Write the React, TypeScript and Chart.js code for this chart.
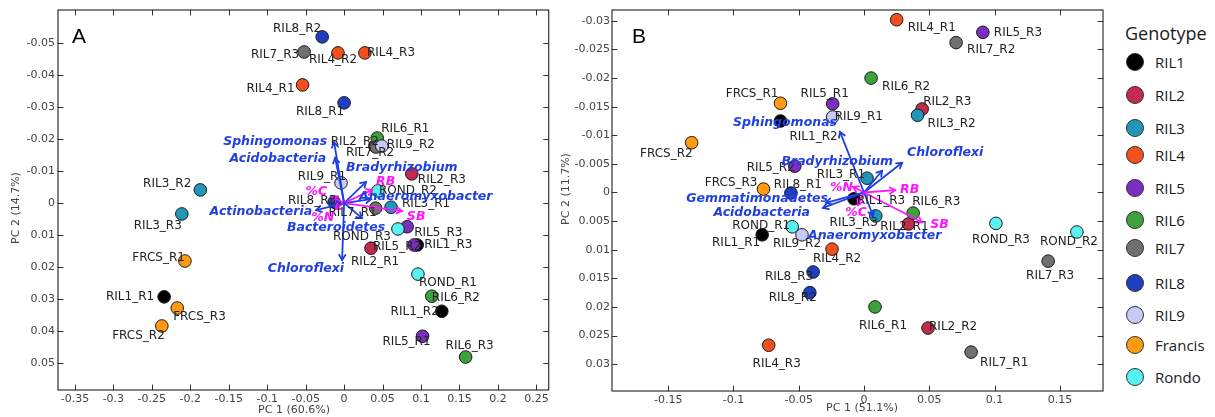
import React, { useEffect, useRef } from 'react';
import { Chart, registerables } from 'chart.js';

Chart.register(...registerables);

// ---------- data ----------
const GENOTYPES = ['RIL1', 'RIL2', 'RIL3', 'RIL4', 'RIL5', 'RIL6', 'RIL7', 'RIL8', 'RIL9', 'Francis', 'Rondo'];
const GENO_COLORS = ['#000000', '#c4294e', '#2096b8', '#f2501c', '#7c2fbf', '#3ea23c', '#707070', '#1f3fbe', '#c9c9f5', '#ff9a12', '#58f2f2'];

const A_SAMPLES = ['RIL1_R1', 'RIL1_R2', 'RIL1_R3', 'RIL2_R1', 'RIL2_R2', 'RIL2_R3', 'RIL3_R1', 'RIL3_R2', 'RIL3_R3', 'RIL4_R1', 'RIL4_R2', 'RIL4_R3', 'RIL5_R1', 'RIL5_R2', 'RIL5_R3', 'RIL6_R1', 'RIL6_R2', 'RIL6_R3', 'RIL7_R1', 'RIL7_R2', 'RIL7_R3', 'RIL8_R1', 'RIL8_R2', 'RIL8_R3', 'RIL9_R1', 'RIL9_R2', 'FRCS_R1', 'FRCS_R2', 'FRCS_R3', 'ROND_R1', 'ROND_R2', 'ROND_R3'];
const A_PC1 = [-0.234, 0.127, 0.095, 0.035, 0.040, 0.088, 0.061, -0.187, -0.211, -0.054, -0.008, 0.027, 0.102, 0.091, 0.082, 0.043, 0.114, 0.158, 0.041, 0.0415, -0.052, 0.000, -0.0285, -0.013, -0.004, 0.049, -0.207, -0.237, -0.217, 0.096, 0.044, 0.070];
const A_PC2 = [0.0293, 0.0338, 0.0131, 0.0141, -0.0178, -0.0091, 0.0013, -0.0041, 0.0034, -0.0369, -0.0469, -0.0469, 0.0416, 0.0131, 0.0074, -0.0203, 0.0291, 0.0481, 0.0016, -0.0175, -0.0472, -0.0313, -0.0519, -0.0003, -0.0063, -0.0178, 0.0181, 0.0384, 0.0328, 0.0222, -0.0038, 0.0081];

const B_SAMPLES = A_SAMPLES;
const B_PC1 = [-0.078, -0.064, -0.0077, 0.034, 0.049, 0.0445, 0.0023, 0.041, 0.009, 0.025, -0.0245, -0.073, -0.024, -0.053, 0.091, 0.0084, 0.0054, 0.0376, 0.082, 0.0705, 0.141, -0.056, -0.0415, -0.039, -0.024, -0.0475, -0.064, -0.132, -0.077, -0.055, 0.163, 0.101];
const B_PC2 = [0.0074, -0.0125, 0.0011, 0.0055, 0.0237, -0.0146, -0.0025, -0.0135, 0.0041, -0.0302, 0.0099, 0.0267, -0.0155, -0.0046, -0.028, 0.0200, -0.0200, 0.0036, 0.0279, -0.0262, 0.0120, 0.0001, 0.0175, 0.0139, -0.0132, 0.0074, -0.0156, -0.0087, -0.0006, 0.0060, 0.0069, 0.0054];

// loadings (biplot arrows)
const A_LOAD_NAMES = ['Sphingomonas', 'Acidobacteria', 'Bradyrhizobium', 'RB', '%C', 'Anaeromyxobacter', 'Actinobacteria', '%N', 'SB', 'Bacteroidetes', 'Chloroflexi'];
const A_LOAD_PC1 = [-0.013, -0.0117, 0.0285, 0.0363, -0.0155, 0.035, -0.0363, -0.0117, 0.0751, 0.0233, -0.0026];
const A_LOAD_PC2 = [-0.019, -0.0141, -0.0066, -0.0041, -0.0019, -0.0012, 0.0022, 0.0019, 0.0025, 0.0047, 0.0178];
const A_LOAD_SOIL = [false, false, false, true, true, false, false, true, true, false, false];

const B_LOAD_NAMES = ['Sphingomonas', 'Bradyrhizobium', 'Chloroflexi', 'RB', '%N', 'Gemmatimonadetes', 'Acidobacteria', '%C', 'Anaeromyxobacter', 'SB'];
const B_LOAD_PC1 = [-0.0184, 0.0138, 0.0291, 0.0238, -0.0084, -0.0291, -0.0314, -0.0046, 0.0069, 0.0445];
const B_LOAD_PC2 = [-0.0106, -0.0038, -0.0052, -0.0004, -0.001, 0.0018, 0.0027, 0.0022, 0.0041, 0.0052];
const B_LOAD_SOIL = [false, false, false, true, true, false, false, true, false, true];

// ---------- label placement (style) ----------
type Place = [string, number, number];
const A_PLACE: Record<string, Place> = {
  RIL8_R2: ['r', -1, -8], RIL7_R3: ['r', -5, 3], RIL4_R2: ['c', -5, 7], RIL4_R3: ['l', 2, 0],
  RIL4_R1: ['r', -8, 4], RIL8_R1: ['r', 0, 9], RIL6_R1: ['l', 4, -9], RIL2_R2: ['r', 4, -4],
  RIL9_R2: ['l', 5, -1], RIL7_R2: ['c', -6, 6], RIL9_R1: ['r', 5, -6], RIL2_R3: ['l', 6, 6],
  ROND_R2: ['l', 1, 0], RIL8_R3: ['r', 2, -1], RIL3_R1: ['l', 11, -3], RIL7_R1: ['r', 1, 5],
  RIL5_R3: ['l', 7, 6], ROND_R3: ['r', -7, 8], RIL5_R2: ['r', 7, 2], RIL1_R3: ['l', 7, 0],
  RIL2_R1: ['c', 4, 14], ROND_R1: ['l', 1, 9], RIL6_R2: ['l', 0, 2], RIL1_R2: ['r', -3, 1],
  RIL5_R1: ['r', 8, 6], RIL6_R3: ['c', 4, -11], RIL3_R3: ['r', 0, 12], FRCS_R1: ['r', 0, -3],
  RIL1_R1: ['r', -10, 0], FRCS_R3: ['l', -4, 9], FRCS_R2: ['r', 3, 10], RIL3_R2: ['r', -9, -6],
};
const B_PLACE: Record<string, Place> = {
  FRCS_R1: ['r', -2, -9], RIL5_R1: ['c', -8, -10], RIL9_R1: ['l', 2, 0], RIL1_R2: ['l', 9, 16],
  FRCS_R2: ['r', 1, 11], RIL5_R2: ['r', 0, 2], FRCS_R3: ['r', -6, -6], RIL8_R1: ['c', 7, -8],
  RIL4_R1: ['l', 11, 8], RIL5_R3: ['l', 11, 1], RIL7_R2: ['l', 11, 7], RIL6_R2: ['l', 11, 9],
  RIL2_R3: ['l', 1, -7], RIL3_R2: ['l', 10, 9], RIL3_R1: ['r', -2, -3], RIL1_R3: ['l', 3, 2],
  RIL6_R3: ['l', -1, -11], RIL3_R3: ['r', 2, 7], RIL2_R1: ['c', -4, 3], ROND_R3: ['c', 5, 16],
  ROND_R2: ['c', -8, 10], RIL7_R3: ['c', 2, 15], RIL6_R1: ['c', 8, 19], RIL2_R2: ['l', 1, -1],
  RIL7_R1: ['l', 9, 11], ROND_R1: ['r', -2, -1], RIL1_R1: ['r', -2, 8], RIL9_R2: ['c', -5, 9],
  RIL4_R2: ['c', 5, 10], RIL8_R3: ['r', 0, 5], RIL8_R2: ['r', 7, 5], RIL4_R3: ['c', 8, 19],
};
const A_LOAD_PLACE: Place[] = [
  ['r', -7, 0], ['r', -9, 1], ['l', -20, -14], ['l', 4, -8], ['r', -5, -5], ['l', -12, -2],
  ['r', -4, 2], ['r', -1, 9], ['l', 5, 6], ['c', -26, 10], ['r', 2, 9],
];
const B_LOAD_PLACE: Place[] = [
  ['r', -3, -9], ['r', 11, -9], ['l', 5, -10], ['l', 5, 0], ['r', 0, 1], ['r', 2, -4],
  ['r', -13, 5], ['r', 9, 8], ['l', -65, 20], ['l', 8, 3],
];

const LEGEND_ROW_Y = [62, 95, 128, 155, 188, 220, 248, 283, 315, 345, 377];

const BLUE = '#1f3fe2';
const MAGENTA = '#ff14ff';
const FONT = '"DejaVu Sans", Verdana, sans-serif';

function genoIndex(name: string): number {
  const p = name.split('_')[0];
  if (p === 'FRCS') return 9;
  if (p === 'ROND') return 10;
  return parseInt(p.replace('RIL', ''), 10) - 1;
}

const fmt = (v: number) => String(parseFloat(Number(v).toFixed(4)));

function drawArrow(ctx: CanvasRenderingContext2D, x0: number, y0: number, x1: number, y1: number, color: string) {
  ctx.strokeStyle = color;
  ctx.lineWidth = 1.8;
  ctx.lineCap = 'round';
  ctx.beginPath();
  ctx.moveTo(x0, y0);
  ctx.lineTo(x1, y1);
  ctx.stroke();
  const a = Math.atan2(y1 - y0, x1 - x0);
  const L = 6;
  ctx.beginPath();
  ctx.moveTo(x1 - L * Math.cos(a - 0.55), y1 - L * Math.sin(a - 0.55));
  ctx.lineTo(x1, y1);
  ctx.lineTo(x1 - L * Math.cos(a + 0.55), y1 - L * Math.sin(a + 0.55));
  ctx.stroke();
}

interface PanelCfg {
  samples: string[]; pc1: number[]; pc2: number[]; place: Record<string, Place>;
  loadNames: string[]; loadX: number[]; loadY: number[]; loadSoil: boolean[]; loadPlace: Place[];
  letter: string; letterX: number;
  xTitle: string; xTitleX: number; xTitleY: number;
  yTitle: string; yTitleX: number; yTitleY: number;
  xMin: number; xMax: number; xStep: number; yMin: number; yMax: number; yStep: number; yLim: number;
  yWidth: number; xHeight: number; padR: number; yPad: number;
}

function overlayPlugin(cfg: PanelCfg) {
  return {
    id: 'overlay' + cfg.letter,
    afterDatasetsDraw(chart: any) {
      const { ctx, chartArea: ca } = chart;
      const xs = chart.scales.x;
      const ys = chart.scales.y;
      ctx.save();
      // arrows
      const ox = xs.getPixelForValue(0);
      const oy = ys.getPixelForValue(0);
      cfg.loadNames.forEach((_, i) => {
        drawArrow(ctx, ox, oy, xs.getPixelForValue(cfg.loadX[i]), ys.getPixelForValue(cfg.loadY[i]), cfg.loadSoil[i] ? MAGENTA : BLUE);
      });
      // sample labels
      ctx.font = '12px ' + FONT;
      ctx.fillStyle = '#222';
      ctx.textBaseline = 'middle';
      cfg.samples.forEach((s, i) => {
        const p = cfg.place[s] || ['l', 7, 0];
        const px = xs.getPixelForValue(cfg.pc1[i]);
        const py = ys.getPixelForValue(cfg.pc2[i]);
        ctx.textAlign = p[0] === 'l' ? 'left' : p[0] === 'r' ? 'right' : 'center';
        ctx.fillText(s, px + p[1], py + p[2]);
      });
      // loading labels
      ctx.font = 'italic bold 12.5px ' + FONT;
      cfg.loadNames.forEach((n, i) => {
        const p = cfg.loadPlace[i];
        const px = xs.getPixelForValue(cfg.loadX[i]);
        const py = ys.getPixelForValue(cfg.loadY[i]);
        ctx.fillStyle = cfg.loadSoil[i] ? MAGENTA : BLUE;
        ctx.textAlign = p[0] === 'l' ? 'left' : p[0] === 'r' ? 'right' : 'center';
        ctx.fillText(n, px + p[1], py + p[2]);
      });
      // frame
      ctx.strokeStyle = '#333';
      ctx.lineWidth = 1.2;
      ctx.strokeRect(ca.left, ca.top, ca.right - ca.left, ca.bottom - ca.top);
      // inward ticks
      ctx.lineWidth = 1;
      ctx.beginPath();
      xs.ticks.forEach((t: any) => {
        const px = Math.round(xs.getPixelForValue(t.value)) + 0.5;
        ctx.moveTo(px, ca.bottom); ctx.lineTo(px, ca.bottom - 5);
        ctx.moveTo(px, ca.top); ctx.lineTo(px, ca.top + 5);
      });
      ys.ticks.forEach((t: any) => {
        if (Math.abs(t.value) > cfg.yLim) return;
        const py = Math.round(ys.getPixelForValue(t.value)) + 0.5;
        ctx.moveTo(ca.left, py); ctx.lineTo(ca.left + 5, py);
        ctx.moveTo(ca.right, py); ctx.lineTo(ca.right - 5, py);
      });
      ctx.stroke();
      // panel letter
      ctx.fillStyle = '#000';
      ctx.font = '21px "Liberation Sans", Arial, sans-serif';
      ctx.textAlign = 'left';
      ctx.textBaseline = 'alphabetic';
      ctx.fillText(cfg.letter, cfg.letterX, 43);
      // axis titles
      ctx.font = '11px ' + FONT;
      ctx.fillStyle = '#444';
      ctx.textAlign = 'center';
      ctx.textBaseline = 'middle';
      ctx.fillText(cfg.xTitle, cfg.xTitleX, cfg.xTitleY);
      ctx.translate(cfg.yTitleX, cfg.yTitleY);
      ctx.rotate(-Math.PI / 2);
      ctx.fillText(cfg.yTitle, 0, 0);
      ctx.restore();
    },
  };
}

const PANEL_A: PanelCfg = {
  samples: A_SAMPLES, pc1: A_PC1, pc2: A_PC2, place: A_PLACE,
  loadNames: A_LOAD_NAMES, loadX: A_LOAD_PC1, loadY: A_LOAD_PC2, loadSoil: A_LOAD_SOIL, loadPlace: A_LOAD_PLACE,
  letter: 'A', letterX: 72,
  xTitle: 'PC 1 (60.6%)', xTitleX: 294, xTitleY: 410,
  yTitle: 'PC 2 (14.7%)', yTitleX: 16.5, yTitleY: 208,
  xMin: -0.372, xMax: 0.266, xStep: 0.05, yMin: -0.0603, yMax: 0.0584, yStep: 0.01, yLim: 0.0501,
  yWidth: 58, xHeight: 27, padR: 6, yPad: 3,
};
const PANEL_B: PanelCfg = {
  samples: B_SAMPLES, pc1: B_PC1, pc2: B_PC2, place: B_PLACE,
  loadNames: B_LOAD_NAMES, loadX: B_LOAD_PC1, loadY: B_LOAD_PC2, loadSoil: B_LOAD_SOIL, loadPlace: B_LOAD_PLACE,
  letter: 'B', letterX: 76,
  xTitle: 'PC 1 (51.1%)', xTitleX: 306, xTitleY: 408,
  yTitle: 'PC 2 (11.7%)', yTitleX: 10, yTitleY: 189,
  xMin: -0.193, xMax: 0.183, xStep: 0.05, yMin: -0.0319, yMax: 0.0347, yStep: 0.005, yLim: 0.0301,
  yWidth: 56, xHeight: 26, padR: 9, yPad: 2,
};

function Panel({ cfg, left }: { cfg: PanelCfg; left: number }) {
  const ref = useRef<HTMLCanvasElement | null>(null);
  useEffect(() => {
    if (!ref.current) return;
    const chart = new Chart(ref.current, {
      type: 'scatter',
      data: {
        datasets: [{
          data: cfg.samples.map((_, i) => ({ x: cfg.pc1[i], y: cfg.pc2[i] })),
          backgroundColor: cfg.samples.map((s) => GENO_COLORS[genoIndex(s)]),
          borderColor: '#1a1a1a',
          borderWidth: 1,
          pointRadius: 6.3,
        }],
      },
      options: {
        responsive: false,
        animation: false,
        events: [],
        layout: { padding: { left: 0, top: 10, right: cfg.padR, bottom: 0 } },
        plugins: { legend: { display: false }, tooltip: { enabled: false } },
        scales: {
          x: {
            type: 'linear', min: cfg.xMin, max: cfg.xMax,
            grid: { display: false, drawTicks: false }, border: { display: false },
            ticks: {
              stepSize: cfg.xStep, includeBounds: false, autoSkip: false, maxRotation: 0, padding: 3,
              font: { size: 11, family: FONT }, color: '#444', callback: (v: any) => fmt(v),
            },
            afterFit: (s: any) => { s.height = cfg.xHeight; },
          },
          y: {
            type: 'linear', reverse: true, min: cfg.yMin, max: cfg.yMax,
            grid: { display: false, drawTicks: false }, border: { display: false },
            ticks: {
              stepSize: cfg.yStep, includeBounds: false, autoSkip: false, padding: cfg.yPad,
              font: { size: 11, family: FONT }, color: '#444',
              callback: (v: any) => (Math.abs(v) > cfg.yLim ? null : fmt(v)),
            },
            afterFit: (s: any) => { s.width = cfg.yWidth; },
          },
        },
      } as any,
      plugins: [overlayPlugin(cfg)],
    });
    return () => chart.destroy();
  }, [cfg]);
  return (
    <canvas ref={ref} width={556} height={417}
      style={{ position: 'absolute', left, top: 0, width: 556, height: 417 }} />
  );
}

export default function App() {
  return (
    <div style={{ position: 'absolute', left: 0, top: 0, width: 1215, height: 417, background: '#fff', overflow: 'hidden' }}>
      <Panel cfg={PANEL_A} left={0} />
      <Panel cfg={PANEL_B} left={556} />
      <div style={{ position: 'absolute', left: 1125, top: 20, fontFamily: '"Open Sans", sans-serif', fontSize: 18, color: '#1a1a1a', lineHeight: '26px' }}>
        Genotype
      </div>
      {GENOTYPES.map((g, i) => (
        <React.Fragment key={g}>
          <div style={{
            position: 'absolute', left: 1126, top: LEGEND_ROW_Y[i] - 9, width: 16, height: 16, borderRadius: '50%',
            background: GENO_COLORS[i], border: '1.5px solid #333',
          }} />
          <div style={{
            position: 'absolute', left: 1155, top: LEGEND_ROW_Y[i] - 11, fontFamily: '"Open Sans", sans-serif',
            fontSize: 15, lineHeight: '22px', color: '#1a1a1a',
          }}>{g}</div>
        </React.Fragment>
      ))}
    </div>
  );
}
